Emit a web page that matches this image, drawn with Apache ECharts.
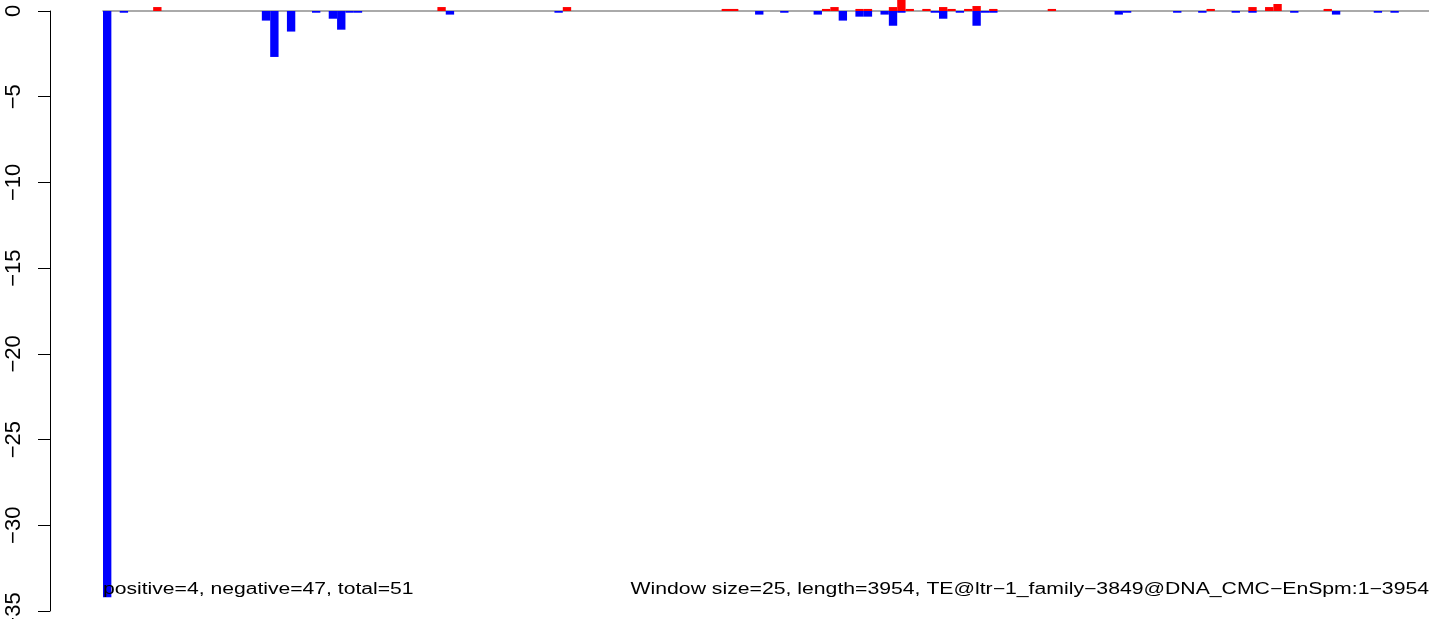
<!DOCTYPE html>
<html>
<head>
<meta charset="utf-8">
<script src="https://cdn.jsdelivr.net/npm/echarts@6/dist/echarts.min.js"></script>
<style>
  html, body { margin: 0; padding: 0; background: #ffffff; }
  #chart { width: 1429px; height: 619px; }
</style>
</head>
<body>
<div id="chart"></div>
<script>
// ---- data ----
const windowSize = 25;
const seqLength = 3954;
const nWindows = Math.ceil(seqLength / windowSize); // 159 windows
// windows (0-based index) having positive signal, and their values
const posWindows = [6, 40, 55, 74, 75, 86, 87, 90, 91, 94, 95, 96, 98, 100, 101, 103, 104, 106, 113, 132, 137, 139, 140, 146];
const posValues  = [0.23, 0.23, 0.23, 0.12, 0.12, 0.12, 0.23, 0.12, 0.12, 0.23, 0.68, 0.12, 0.12, 0.23, 0.12, 0.12, 0.29, 0.12, 0.12, 0.12, 0.23, 0.23, 0.41, 0.12];
// windows having negative signal, and their values
const negWindows = [0, 2, 19, 20, 22, 25, 27, 28, 29, 30, 41, 54, 78, 81, 85, 88, 90, 91, 93, 94, 95, 99, 100, 102, 104, 105, 106, 121, 122, 128, 131, 135, 137, 142, 147, 152, 154];
const negValues  = [-34.2, -0.1, -0.56, -2.68, -1.2, -0.1, -0.45, -1.09, -0.1, -0.1, -0.21, -0.1, -0.21, -0.1, -0.21, -0.56, -0.33, -0.33, -0.21, -0.86, -0.1, -0.1, -0.45, -0.1, -0.86, -0.1, -0.1, -0.21, -0.1, -0.1, -0.1, -0.1, -0.1, -0.1, -0.21, -0.1, -0.1];
const yTicks = [0, -5, -10, -15, -20, -25, -30, -35];
const leftNote = 'positive=4, negative=47, total=51';
const rightNote = 'Window size=25, length=3954, TE@ltr\u22121_family\u22123849@DNA_CMC\u2212EnSpm:1\u22123954';

// ---- build series arrays ----
const categories = [];
for (let i = 0; i < nWindows; i++) categories.push(String(i * windowSize + 1));
const posData = new Array(nWindows).fill(null);
posWindows.forEach((w, k) => { posData[w] = posValues[k]; });
const negData = new Array(nWindows).fill(null);
negWindows.forEach((w, k) => { negData[w] = negValues[k]; });

const FONT = 'Liberation Sans, Arial, Helvetica, sans-serif';
const gridLeft = 103;
const bandPx = 8.36;

const chart = echarts.init(document.getElementById('chart'), null, { renderer: 'canvas' });
chart.setOption({
  animation: false,
  backgroundColor: '#ffffff',
  grid: {
    left: gridLeft, top: 11, width: nWindows * bandPx, bottom: 8,
    containLabel: false, outerBoundsMode: 'none'
  },
  xAxis: {
    type: 'category',
    data: categories,
    axisLine: { show: true, onZero: true, lineStyle: { color: '#8f8f8f', width: 1.6 } },
    axisTick: { show: false },
    axisLabel: { show: false },
    splitLine: { show: false }
  },
  yAxis: {
    type: 'value',
    min: Math.min(...yTicks),
    max: Math.max(...yTicks),
    interval: 5,
    position: 'left',
    offset: gridLeft - 50,
    axisLine: { show: true, lineStyle: { color: '#000000', width: 1 } },
    axisTick: { show: true, length: 12, lineStyle: { color: '#000000', width: 1 } },
    axisLabel: {
      show: true,
      rotate: 90,
      margin: 25,
      color: '#000000',
      fontFamily: FONT,
      fontSize: 22,
      formatter: v => (v === 0 ? '0' : '\u2212' + Math.abs(v))
    },
    splitLine: { show: false }
  },
  series: [
    {
      name: 'positive', type: 'bar', data: posData,
      barGap: '-100%', barCategoryGap: '0%', clip: false,
      itemStyle: { color: '#ff0000' }
    },
    {
      name: 'negative', type: 'bar', data: negData,
      barGap: '-100%', barCategoryGap: '0%', clip: false,
      itemStyle: { color: '#0000ff' }
    }
  ],
  graphic: [
    {
      type: 'text', x: gridLeft, y: 590, scaleX: 1.32, scaleY: 1, z: 100,
      style: { text: leftNote, font: '16px ' + FONT, fill: '#000000', textAlign: 'left', textVerticalAlign: 'middle' }
    },
    {
      type: 'text', x: 1429, y: 590, scaleX: 1.325, scaleY: 1, z: 100,
      style: { text: rightNote, font: '16px ' + FONT, fill: '#000000', textAlign: 'right', textVerticalAlign: 'middle' }
    }
  ]
});
</script>
</body>
</html>
